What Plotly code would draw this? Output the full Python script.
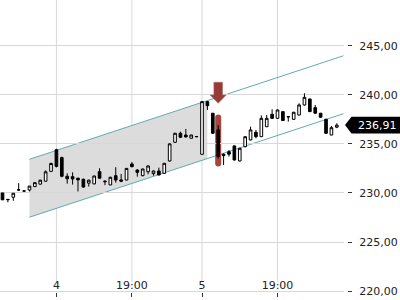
import plotly.graph_objects as go

# ---------------- data ----------------
idx = list(range(63))
opens = [230.00, 229.35, 229.56, 230.32, 230.20, 230.30, 230.65, 230.90, 231.20, 232.20,
         234.40, 233.60, 231.70, 231.66, 231.50, 231.40, 231.00, 230.92, 232.17, 231.20,
         230.82, 231.76, 231.33, 231.32, 232.95, 232.34, 231.76, 232.17, 231.97, 232.24,
         232.00, 233.26, 235.16, 236.08, 235.90, 235.57, 235.73, 233.94, 239.30, 238.12,
         236.42, 233.94, 234.20, 234.79, 233.26, 234.71, 235.40, 236.18, 235.73, 236.75,
         238.01, 237.60, 238.28, 237.78, 237.50, 237.94, 238.96, 239.57, 238.69, 238.12,
         237.50, 235.90, 236.70]
highs = [230.00, 229.35, 229.97, 231.00, 230.30, 230.70, 231.10, 231.35, 232.30, 233.10,
         234.50, 233.70, 232.00, 232.10, 231.55, 231.45, 231.35, 231.75, 232.52, 231.30,
         231.65, 232.62, 231.94, 232.55, 233.15, 232.40, 232.48, 232.80, 232.28, 232.58,
         233.05, 235.05, 236.12, 236.24, 236.52, 235.92, 235.75, 239.35, 239.35, 238.15,
         236.90, 234.04, 234.38, 234.85, 234.60, 235.78, 236.75, 236.42, 237.90, 237.94,
         238.52, 238.50, 238.30, 237.80, 238.25, 239.13, 240.15, 239.60, 238.96, 238.15,
         237.55, 236.82, 237.10]
lows = [229.30, 229.05, 229.20, 230.30, 230.15, 230.15, 230.60, 230.85, 231.15, 232.15,
        232.60, 231.60, 230.95, 230.85, 230.15, 230.55, 230.65, 230.90, 231.45, 230.80,
        230.80, 231.05, 231.10, 231.30, 232.60, 231.66, 231.70, 231.90, 231.76, 231.80,
        231.95, 233.20, 235.10, 235.62, 235.67, 235.55, 235.72, 233.90, 238.45, 236.00,
        233.50, 232.85, 233.70, 233.30, 233.20, 234.65, 235.35, 235.57, 235.70, 236.70,
        237.55, 237.55, 237.35, 237.26, 237.45, 237.90, 238.90, 238.25, 238.10, 237.68,
        236.00, 235.88, 236.60]
closes = [229.30, 229.32, 229.97, 230.30, 230.20, 230.70, 231.05, 231.30, 232.15, 233.00,
          232.70, 231.70, 231.45, 231.43, 231.33, 230.60, 231.30, 231.73, 231.50, 231.15,
          231.60, 231.32, 231.20, 232.50, 232.68, 232.10, 232.44, 232.75, 232.24, 231.83,
          233.02, 235.00, 236.08, 235.67, 235.70, 235.90, 235.74, 239.30, 238.89, 236.08,
          233.70, 233.80, 233.95, 233.36, 234.55, 235.73, 236.42, 235.73, 237.60, 237.60,
          237.60, 238.45, 237.38, 237.75, 238.22, 238.96, 239.74, 238.28, 238.12, 237.71,
          236.08, 236.65, 236.91]

tick_idx = [10, 24, 37, 51]
tick_text = ["4", "19:00", "5", "19:00"]
y_ticks = [220, 225, 230, 235, 240, 245]

# trend channel
chan_start = 5
chan_fill_end = 38
chan_line_end = 63.6
chan_upper0 = 233.43
chan_lower0 = 227.53
chan_slope = 0.181

# signal markers
signal_idx = 40
signal_arrow_tip = 239.13
signal_bar_top = 238.0
signal_bar_bottom = 232.7

# ---------------- geometry helpers ----------------
W, H = 400, 300
paper_w = 347.0
plot_w = 343.5
x_range = [-0.464, 63.24]
y_range = [219.1, 249.65]
px_x = plot_w / (x_range[1] - x_range[0])
px_y = H / (y_range[1] - y_range[0])


def up(i):
    return chan_upper0 + chan_slope * (i - chan_start)


def lo(i):
    return chan_lower0 + chan_slope * (i - chan_start)


def py(price):
    return (price - y_range[0]) / (y_range[1] - y_range[0])


fig = go.Figure()

# candles
fig.add_trace(go.Candlestick(
    x=idx, open=opens, high=highs, low=lows, close=closes,
    increasing=dict(line=dict(color="#000000", width=1), fillcolor="#ffffff"),
    decreasing=dict(line=dict(color="#000000", width=1), fillcolor="#000000"),
    whiskerwidth=0, showlegend=False))

shapes = []
# vertical grid lines (stop above the time labels)
for t in tick_idx:
    shapes.append(dict(type="line", xref="x", yref="paper", x0=t, x1=t,
                       y0=18 / H, y1=1, line=dict(color="#d8d8d8", width=1), layer="below"))

# channel fill (below the candles)
a, b = chan_start, chan_fill_end
fill_path = f"M {a},{up(a)} L {b},{up(b)} L {b},{lo(b)} L {a},{lo(a)} Z"
shapes.append(dict(type="path", xref="x", yref="y", path=fill_path,
                   fillcolor="#dcdcdc", line=dict(width=0), layer="below"))

# channel lines
for f in (up, lo):
    shapes.append(dict(type="line", xref="x", yref="y",
                       x0=chan_start, y0=f(chan_start), x1=chan_line_end, y1=f(chan_line_end),
                       line=dict(color="#62a9b1", width=1), layer="below"))

# red vertical signal bar (rounded)
c = signal_idx
hw = 3.0 / px_x
rx, ry = 3.0 / px_x, 3.0 / px_y
x0, x1 = c - hw, c + hw
yT, yB = signal_bar_top, signal_bar_bottom
bar_path = (f"M {x0},{yT - ry} Q {x0},{yT} {c},{yT} Q {x1},{yT} {x1},{yT - ry} "
            f"L {x1},{yB + ry} Q {x1},{yB} {c},{yB} Q {x0},{yB} {x0},{yB + ry} Z")
shapes.append(dict(type="path", xref="x", yref="y", path=bar_path,
                   fillcolor="#a8433e", line=dict(width=0), layer="below"))

# red arrow pointing down
shw = 4.3 / px_x
hhw = 8.0 / px_x
tip = signal_arrow_tip
hbase = tip + 8.3 / px_y
top = hbase + 12.7 / px_y
arrow_path = (f"M {c - shw},{top} L {c + shw},{top} L {c + shw},{hbase} L {c + hhw},{hbase} "
              f"L {c},{tip} L {c - hhw},{hbase} L {c - shw},{hbase} Z")
shapes.append(dict(type="path", xref="x", yref="y", path=arrow_path,
                   fillcolor="#973b36", line=dict(color="#b06a66", width=0.6), layer="above"))

# last price label (black tag pointing left)
last = closes[-1]
cy = py(last)
hh = 8.3 / H
tipx = 345.0 / paper_w
boxl = 351.5 / paper_w
boxr = 402.0 / paper_w
tag_path = (f"M {tipx},{cy} L {boxl},{cy + hh} L {boxr},{cy + hh} "
            f"L {boxr},{cy - hh} L {boxl},{cy - hh} Z")
shapes.append(dict(type="path", xref="paper", yref="paper", path=tag_path,
                   fillcolor="#000000", line=dict(width=0), layer="above"))

fig.add_annotation(x=355.5 / paper_w, y=cy, xref="paper", yref="paper",
                   xanchor="left", yanchor="middle", showarrow=False,
                   text=f"{last:.2f}".replace(".", ","),
                   font=dict(family="DejaVu Sans", size=11, color="#ffffff"))

fig.update_layout(
    width=W, height=H,
    margin=dict(l=0, r=W - paper_w, t=0, b=0),
    paper_bgcolor="#ffffff", plot_bgcolor="#ffffff",
    separators=", ",
    showlegend=False,
    shapes=shapes,
    font=dict(family="DejaVu Sans", size=11, color="#222222"),
    xaxis=dict(
        domain=[0, plot_w / paper_w], range=x_range,
        anchor="free", position=3 / H, side="top",
        tickmode="array", tickvals=tick_idx, ticktext=tick_text,
        ticks="outside", ticklen=4, tickcolor="#333333", tickwidth=1,
        ticklabelstandoff=0,
        showgrid=False, zeroline=False, showline=False,
        rangeslider=dict(visible=False), fixedrange=True,
    ),
    yaxis=dict(
        domain=[0, 1], range=y_range,
        anchor="free", position=1, side="right",
        tickmode="array", tickvals=y_ticks, tickformat=".2f",
        ticks="outside", ticklen=4, tickcolor="#333333", tickwidth=1,
        ticklabelstandoff=5,
        showgrid=True, gridcolor="#d8d8d8", gridwidth=1,
        zeroline=False, showline=False, fixedrange=True,
    ),
)

fig.write_html("out.html")
